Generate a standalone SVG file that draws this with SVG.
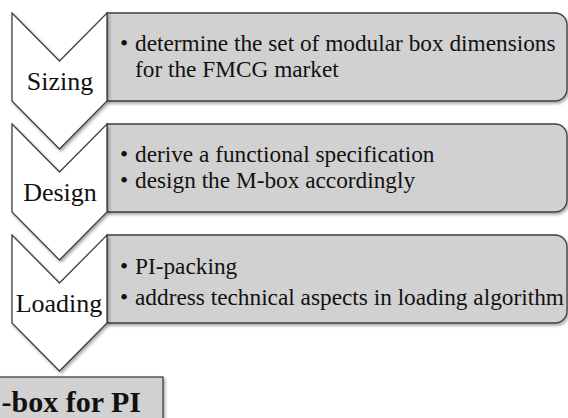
<svg xmlns="http://www.w3.org/2000/svg" width="568" height="418" viewBox="0 0 568 418">
<style>
.chev{fill:#ffffff;stroke:#404040;stroke-width:1.3;filter:url(#sh)}
.box{fill:#d1d1d1;stroke:#404040;stroke-width:1.3;filter:url(#sh)}
.lbl{font-family:"Liberation Serif","Times New Roman",serif;font-size:26px;fill:#111;text-anchor:middle}
.txt{font-family:"Liberation Serif","Times New Roman",serif;font-size:23.3px;fill:#111}
.big{font-family:"Liberation Serif","Times New Roman",serif;font-size:30px;font-weight:bold;fill:#111}
</style>
<defs>
<filter id="sh" x="-10%" y="-10%" width="130%" height="130%">
<feDropShadow dx="1.5" dy="2" stdDeviation="1.5" flood-color="#000" flood-opacity="0.35"/>
</filter>
</defs>
<g id="sizing-box">
<path class="box" d="M107,13 H555 A12,12 0 0 1 567,25 V89 A12,12 0 0 1 555,101 H107 Z"/>
<text class="txt" x="120" y="51">•</text><text class="txt" x="135" y="51">determine the set of modular box dimensions</text>
<text class="txt" x="135" y="77">for the FMCG market</text>
</g>
<g id="design-box">
<path class="box" d="M107,124 H555 A12,12 0 0 1 567,136 V200 A12,12 0 0 1 555,212 H107 Z"/>
<text class="txt" x="120" y="162">•</text><text class="txt" x="135" y="162">derive a functional specification</text>
<text class="txt" x="120" y="188">•</text><text class="txt" x="135" y="188">design the M-box accordingly</text>
</g>
<g id="loading-box">
<path class="box" d="M107,235 H555 A12,12 0 0 1 567,247 V311 A12,12 0 0 1 555,323 H107 Z"/>
<text class="txt" x="120" y="274">•</text><text class="txt" x="135" y="274">PI-packing</text>
<text class="txt" x="120" y="305">•</text><text class="txt" x="135" y="305">address technical aspects in loading algorithm</text>
</g>
<g id="result">
<rect class="box" x="-10" y="377" width="173" height="60"/>
<text class="big" x="141" y="412" text-anchor="end">-box for PI</text>
</g>
<g id="sizing">
<path class="chev" d="M12,13 L59.5,61 L107,13 V101 L59.5,149 L12,101 Z"/>
<text class="lbl" x="60" y="90">Sizing</text>
</g>
<g id="design">
<path class="chev" d="M12,124 L59.5,172 L107,124 V212 L59.5,260 L12,212 Z"/>
<text class="lbl" x="60" y="201">Design</text>
</g>
<g id="loading">
<path class="chev" d="M12,235 L59.5,283 L107,235 V323 L59.5,371 L12,323 Z"/>
<text class="lbl" x="59" y="312">Loading</text>
</g>
<g id="connectors"></g>
</svg>
